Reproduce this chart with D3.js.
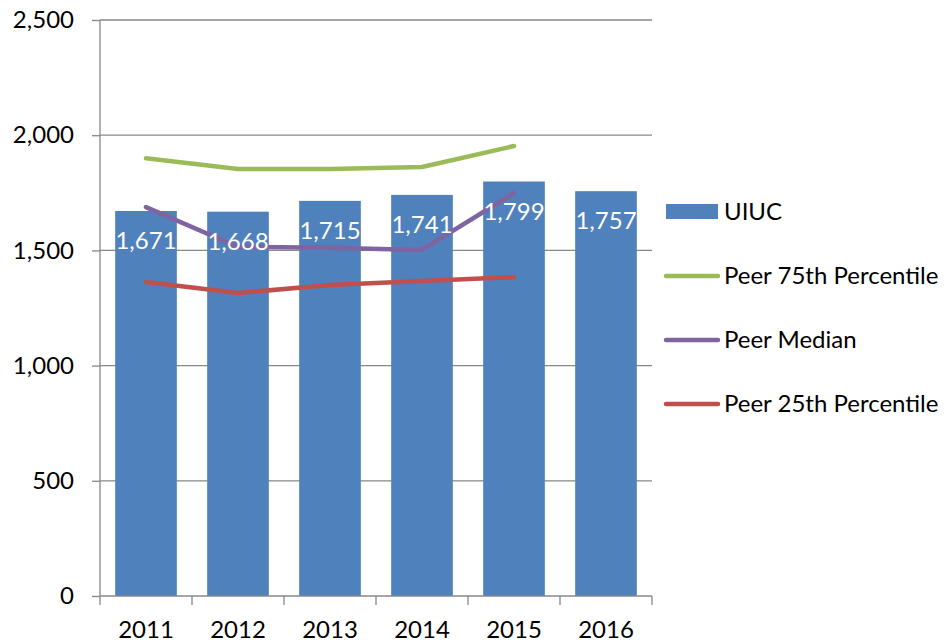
<!DOCTYPE html>
<html>
<head>
<meta charset="utf-8">
<script src="https://cdn.jsdelivr.net/npm/d3@7"></script>
<style>
  body { margin: 0; background: #fff; }
  text { font-family: Lato, "Open Sans", sans-serif; }
</style>
</head>
<body>
<div id="chart"></div>
<script>
const years = ["2011", "2012", "2013", "2014", "2015", "2016"];
const uiuc = [1671, 1668, 1715, 1741, 1799, 1757];
const peer75 = [1900, 1853, 1853, 1862, 1953];
const peerMedian = [1688, 1515, 1512, 1502, 1749];
const peer25 = [1363, 1315, 1350, 1367, 1384];
const yTicks = [0, 500, 1000, 1500, 2000, 2500];

const lineSeries = [
    { name: "Peer 75th Percentile", values: peer75, color: "#9bbb59" },
    { name: "Peer Median", values: peerMedian, color: "#8064a2" },
    { name: "Peer 25th Percentile", values: peer25, color: "#c0504d" }
];
const barColor = "#4f81bd";

const width = 948, height = 643;
const plot = { left: 100, right: 652, top: 20, bottom: 596 };

const svg = d3.select("#chart")
    .append("svg")
    .attr("width", width)
    .attr("height", height);

const x = d3.scaleBand()
    .domain(years)
    .range([plot.left, plot.right])
    .paddingInner(0.33)
    .paddingOuter(0.165);

const xBand = d3.scaleBand()
    .domain(years)
    .range([plot.left, plot.right]);

const y = d3.scaleLinear()
    .domain([0, 2500])
    .range([plot.bottom, plot.top]);

// gridlines
svg.append("g")
    .selectAll("line")
    .data(yTicks.filter(d => d > 0))
    .enter().append("line")
    .attr("x1", plot.left)
    .attr("x2", plot.right)
    .attr("y1", d => y(d))
    .attr("y2", d => y(d))
    .attr("stroke", "#878787")
    .attr("stroke-width", 1.3);

// y axis
const yAxis = svg.append("g")
    .attr("transform", `translate(${plot.left},0)`)
    .call(d3.axisLeft(y).tickValues(yTicks).tickSize(8).tickPadding(18)
        .tickFormat(d3.format(",")));
yAxis.selectAll("line, path").attr("stroke", "#878787").attr("stroke-width", 1.3);
yAxis.select("path").attr("d", `M0,${plot.top}V${plot.bottom}`);
yAxis.selectAll("text")
    .style("font-size", "24px")
    .attr("fill", "#000");

// bars
svg.append("g")
    .selectAll("rect")
    .data(uiuc)
    .enter().append("rect")
    .attr("x", (d, i) => x(years[i]))
    .attr("y", d => y(d))
    .attr("width", x.bandwidth())
    .attr("height", d => plot.bottom - y(d))
    .attr("fill", barColor);

// x axis
const xAxisG = svg.append("g")
    .attr("transform", `translate(0,${plot.bottom})`);
xAxisG.append("line")
    .attr("x1", plot.left).attr("x2", plot.right)
    .attr("stroke", "#878787").attr("stroke-width", 1.3);
xAxisG.selectAll(".tk")
    .data(years.concat(["end"]))
    .enter().append("line")
    .attr("x1", (d, i) => plot.left + i * xBand.bandwidth())
    .attr("x2", (d, i) => plot.left + i * xBand.bandwidth())
    .attr("y1", 0).attr("y2", 9)
    .attr("stroke", "#878787").attr("stroke-width", 1.3);
xAxisG.selectAll("text")
    .data(years)
    .enter().append("text")
    .attr("x", d => xBand(d) + xBand.bandwidth() / 2)
    .attr("y", 42)
    .attr("text-anchor", "middle")
    .style("font-size", "24px")
    .text(d => d);

// lines
const line = d3.line()
    .x((d, i) => xBand(years[i]) + xBand.bandwidth() / 2)
    .y(d => y(d));

svg.append("g")
    .selectAll("path")
    .data(lineSeries)
    .enter().append("path")
    .attr("d", d => line(d.values))
    .attr("fill", "none")
    .attr("stroke", d => d.color)
    .attr("stroke-width", 4.5)
    .attr("stroke-linecap", "round")
    .attr("stroke-linejoin", "round");

// data labels
svg.append("g")
    .selectAll("text")
    .data(uiuc)
    .enter().append("text")
    .attr("x", (d, i) => xBand(years[i]) + xBand.bandwidth() / 2)
    .attr("y", d => y(d) + 38)
    .attr("text-anchor", "middle")
    .attr("fill", "#fff")
    .style("font-size", "24px")
    .text(d => d3.format(",")(d));

// legend
const legend = svg.append("g").attr("transform", "translate(666,0)");
legend.append("rect")
    .attr("x", 0).attr("y", 204)
    .attr("width", 52).attr("height", 15)
    .attr("fill", barColor);
legend.append("text")
    .attr("x", 58).attr("y", 220)
    .style("font-size", "24px")
    .text("UIUC");

const legendItems = legend.selectAll(".item")
    .data(lineSeries)
    .enter().append("g")
    .attr("transform", (d, i) => `translate(0,${276 + i * 64})`);
legendItems.append("line")
    .attr("x1", 0).attr("x2", 52)
    .attr("stroke", d => d.color)
    .attr("stroke-width", 4.5)
    .attr("stroke-linecap", "round");
legendItems.append("text")
    .attr("x", 58).attr("y", 8)
    .style("font-size", "24px")
    .text(d => d.name);
</script>
</body>
</html>
